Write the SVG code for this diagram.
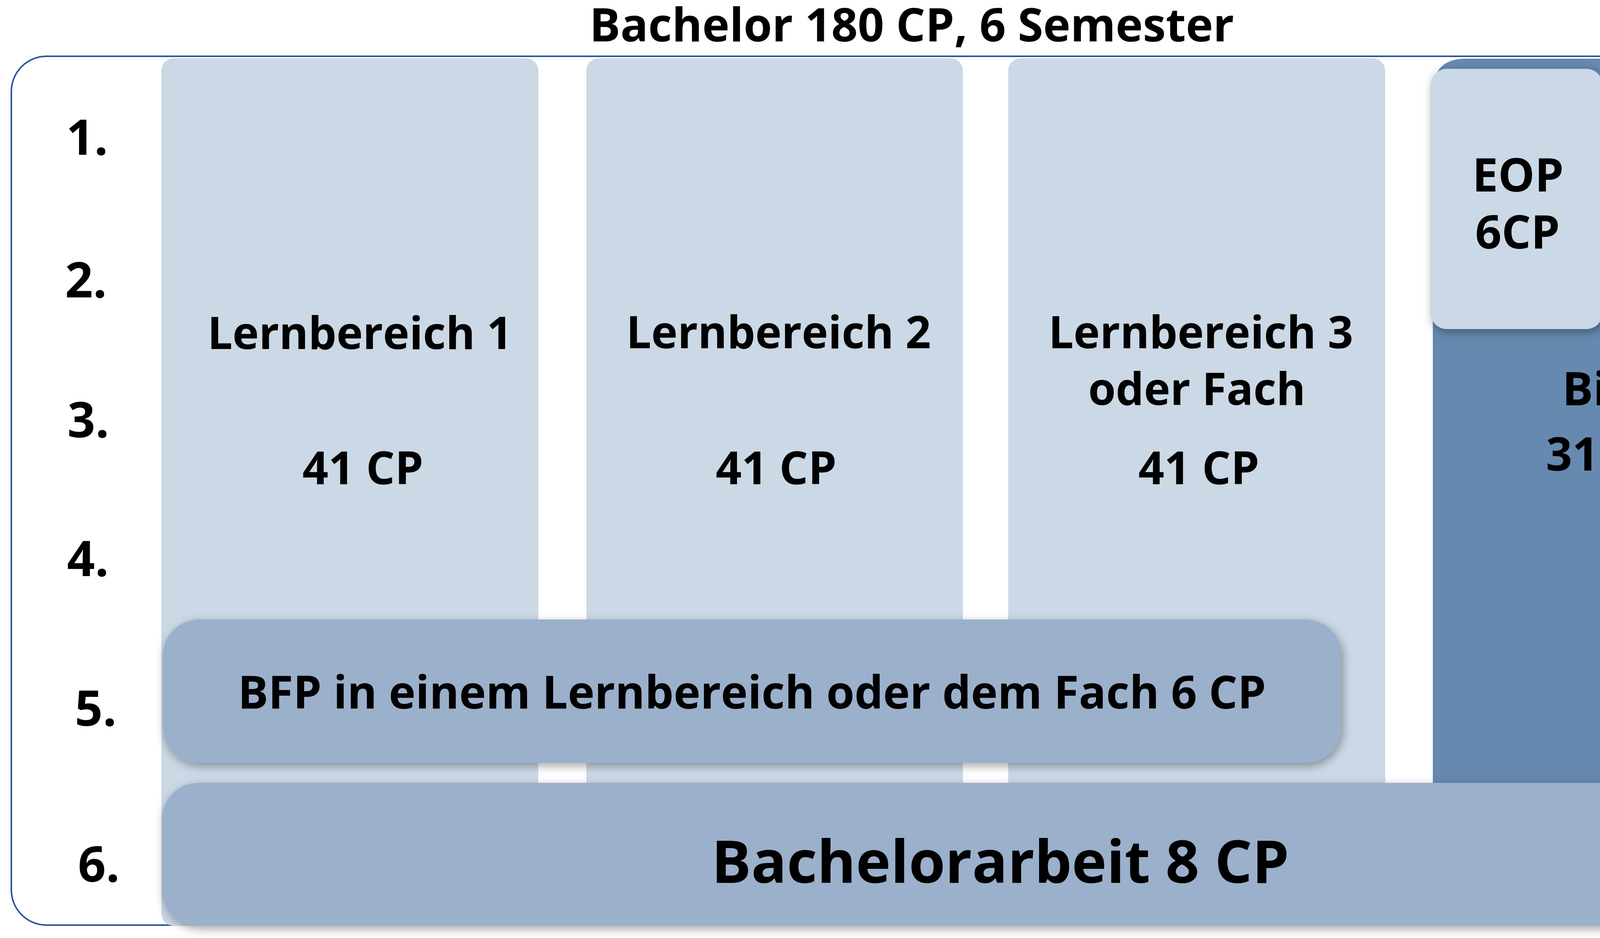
<svg xmlns="http://www.w3.org/2000/svg" width="4705" height="2400" viewBox="0 0 4705 2400">
<style>
text{font-family:"Open Sans","Noto Sans","Liberation Sans",sans-serif;font-weight:700;fill:#000;text-anchor:middle}
.t114{font-size:114px}
.t116{font-size:116px}
.t118{font-size:118px}
.t125{font-size:125px}
.t151{font-size:151px}
.col{fill:#CBD8E5}
.mid{fill:#9BB0CB}
.dark{fill:#6689B0}
</style>
<defs>
<filter id="sh" x="-10%" y="-20%" width="120%" height="140%">
<feDropShadow dx="4" dy="8" stdDeviation="12" flood-color="#000" flood-opacity="0.35"/>
</filter>
</defs>
<rect width="4705" height="2400" fill="#fff"/>
<g id="title"><text class="t118" x="2334" y="106">Bachelor 180 CP, 6 Semester</text></g>
<g id="frame"><rect x="29" y="144" width="4607" height="2223" rx="90" ry="90" fill="#fff" stroke="#2B579A" stroke-width="4"/></g>
<g id="semesters">
<text class="t125" x="223" y="396">1.</text>
<text class="t125" x="220" y="761">2.</text>
<text class="t125" x="226" y="1119">3.</text>
<text class="t125" x="225" y="1474">4.</text>
<text class="t125" x="245" y="1857">5.</text>
<text class="t125" x="253" y="2256">6.</text>
</g>
<g id="lernbereich1"><rect class="col" x="413" y="149" width="965" height="2220" rx="32" ry="32"/>
<text class="t114" x="921" y="893">Lernbereich 1</text><text class="t116" x="929" y="1239">41 CP</text></g>
<g id="lernbereich2"><rect class="col" x="1501" y="149" width="964" height="2220" rx="32" ry="32"/>
<text class="t114" x="1993" y="891">Lernbereich 2</text><text class="t116" x="1987" y="1239">41 CP</text></g>
<g id="lernbereich3"><rect class="col" x="2581" y="149" width="965" height="2220" rx="32" ry="32"/>
<text class="t114" x="3074" y="891">Lernbereich 3</text><text class="t114" x="3064" y="1036">oder Fach</text><text class="t116" x="3069" y="1239">41 CP</text></g>
<g id="biwi"><path class="dark" d="M3668 2369 V235 Q3668 150 3753 150 H4545 Q4634 150 4634 240 V2369 Z"/>
<text class="t118" x="4132" y="1037">BiWi</text><text class="t118" x="4115" y="1204">31 CP</text></g>
<g id="eop"><rect class="col" x="3662" y="176" width="441" height="666" rx="42" ry="42" filter="url(#sh)"/>
<text class="t118" x="3886" y="490">EOP</text><text class="t118" x="3885" y="636">6CP</text></g>
<g id="daz"><rect class="col" x="4192" y="400" width="442" height="442" rx="42" ry="42" filter="url(#sh)"/>
<text class="t118" x="4426" y="598">DaZ</text><text class="t118" x="4426" y="742">6CP</text></g>
<g id="bfp"><rect class="mid" x="417" y="1585" width="3017" height="367" rx="92" ry="92" filter="url(#sh)"/>
<text class="t116" x="1925" y="1813">BFP in einem Lernbereich oder dem Fach 6 CP</text></g>
<g id="bachelorarbeit"><rect class="mid" x="415" y="2003" width="4223" height="366" rx="92" ry="92" filter="url(#sh)"/>
<text class="t151" x="2561" y="2259">Bachelorarbeit 8 CP</text></g>
<g id="connectors"/>
</svg>
